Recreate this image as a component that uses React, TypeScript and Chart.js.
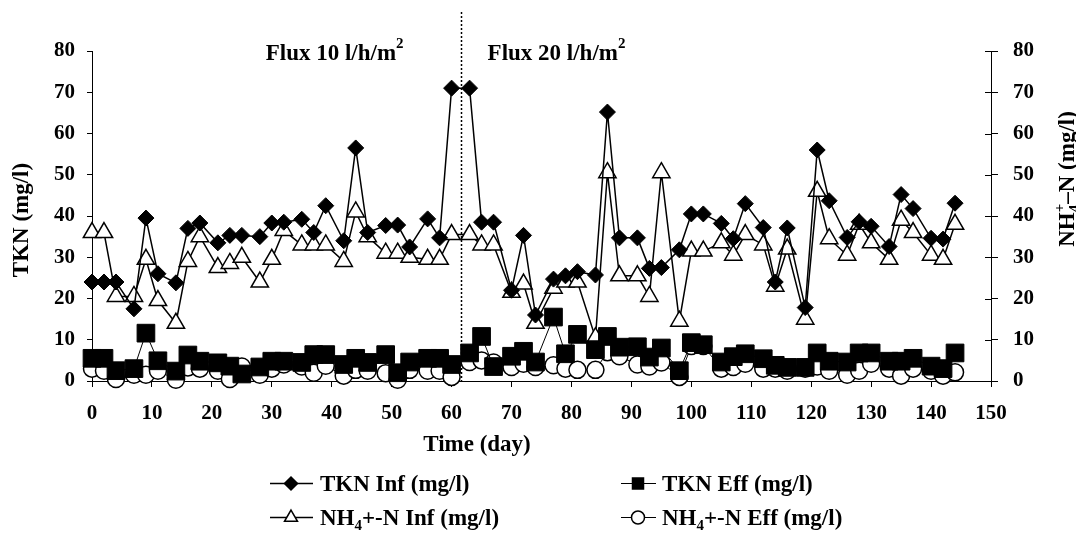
import React, { useEffect, useRef } from "react";
import { Chart, registerables } from "chart.js";

Chart.register(...registerables);

// ---- data ----
const days = [
  0, 2, 4, 7, 9, 11, 14, 16, 18, 21, 23, 25, 28, 30, 32, 35, 37, 39, 42, 44, 46,
  49, 51, 53, 56, 58, 60, 63, 65, 67, 70, 72, 74, 77, 79, 81, 84, 86, 88, 91, 93, 95,
  98, 100, 102, 105, 107, 109, 112, 114, 116, 119, 121, 123, 126, 128, 130, 133, 135, 137, 140, 142, 144,
];
const tknInf = [
  24, 24, 24, 17.5, 39.5, 26, 23.8, 37, 38.3, 33.5, 35.3, 35.3, 35, 38.3, 38.5, 39.2, 36, 42.5, 34, 56.5, 36,
  37.7, 37.8, 32.5, 39.3, 34.7, 71, 71, 38.5, 38.5, 22, 35.3, 16, 24.7, 25.5, 26.5, 25.7, 65.2, 34.7, 34.7, 27.3, 27.5,
  31.8, 40.5, 40.5, 38.2, 34.5, 43, 37.2, 24, 37.1, 17.8, 56, 43.7, 34.8, 38.6, 37.5, 32.6, 45.2, 41.8, 34.6, 34.4, 43.1,
];
const tknEff = [
  5.5, 5.5, 2.5, 3, 11.6, 4.9, 2.4, 6.3, 4.8, 4.4, 3.6, 1.7, 3.4, 4.8, 4.8, 4.5, 6.4, 6.4, 4, 5.5, 4.5,
  6.4, 2, 4.6, 5.5, 5.5, 4, 6.8, 10.8, 3.5, 6, 7.2, 4.6, 15.5, 6.6, 11.3, 7.6, 10.8, 8.2, 8.3, 5.8, 8,
  2.5, 9.3, 8.8, 4.6, 5.9, 6.6, 5.4, 3.8, 3.3, 3.3, 6.8, 4.8, 4.6, 6.8, 6.8, 4.8, 4.8, 5.5, 3.6, 3, 6.8,
];
const nh4Inf = [
  36, 36, 20.5, 20.5, 29.5, 19.5, 14, 29, 35, 27.5, 28.5, 30, 24, 29.5, 36.5, 33, 33, 33, 29, 41, 35,
  31, 31, 30, 29.5, 29.5, 35.5, 35.5, 33, 33, 21.5, 23.5, 14, 22.5, 24, 24, 10.5, 50.5, 25.5, 25.5, 20.5, 50.5,
  14.5, 31.5, 31.5, 33.5, 30.5, 35.5, 33, 23, 32, 15, 46, 34.5, 30.5, 38, 33.5, 29.5, 39, 36, 30.5, 29.5, 38,
];
const nh4Eff = [
  3, 2.5, 0.5, 1.5, 1.5, 2.5, 0.3, 3.3, 3, 2.5, 0.5, 3.5, 1.5, 3, 4, 3.5, 2, 3.7, 1.3, 2.7, 2.5,
  1.9, 0.3, 2.7, 2.5, 2.5, 1, 4.6, 5, 4.5, 3.4, 4.2, 3.4, 3.8, 3, 2.7, 2.7, 7, 6, 4, 3.5, 4.5,
  1, 8.5, 8.5, 3, 3.4, 4.2, 3, 3, 2.5, 3, 3.5, 2.5, 1.5, 2.5, 4.2, 3, 1.3, 3, 2.5, 1.3, 2.1,
];

const xRange = [0, 150];
const yRange = [0, 80];
const xStep = 10;
const yStep = 10;
const fluxChangeDay = 61.5;
const fluxLabels = ["Flux 10 l/h/m", "Flux 20 l/h/m"];
const fluxSup = "2";
const xTitle = "Time (day)";
const yTitleLeft = "TKN (mg/l)";

const FAMILY = '"Liberation Serif", "Times New Roman", Times, serif';
const bold = (size: number) => `bold ${size}px ${FAMILY}`;

type Part = { t: string; size: number; dy: number; stack?: boolean };

function drawRich(ctx: CanvasRenderingContext2D, parts: Part[], x: number, y: number, dry = false): number {
  let cx = x;
  let prevX = x;
  let prevW = 0;
  for (const p of parts) {
    ctx.font = bold(p.size);
    const w = ctx.measureText(p.t).width;
    if (p.stack) {
      if (!dry) ctx.fillText(p.t, prevX, y + p.dy);
      prevW = Math.max(prevW, w);
      cx = prevX + prevW;
    } else {
      if (!dry) ctx.fillText(p.t, cx, y + p.dy);
      prevX = cx;
      prevW = w;
      cx += w;
    }
  }
  return cx - x;
}

function drawMarker(ctx: CanvasRenderingContext2D, style: string, x: number, y: number, r: number, fill: string) {
  ctx.beginPath();
  if (style === "rectRot") {
    ctx.moveTo(x - r, y);
    ctx.lineTo(x, y - r);
    ctx.lineTo(x + r, y);
    ctx.lineTo(x, y + r);
    ctx.closePath();
  } else if (style === "rect") {
    ctx.rect(x - r, y - r, 2 * r, 2 * r);
  } else if (style === "triangle") {
    const s = Math.sin((2 * Math.PI) / 3) * r;
    ctx.moveTo(x, y - r);
    ctx.lineTo(x + s, y + r / 2);
    ctx.lineTo(x - s, y + r / 2);
    ctx.closePath();
  } else {
    ctx.arc(x, y, r, 0, Math.PI * 2);
  }
  ctx.fillStyle = fill;
  ctx.fill();
  ctx.lineWidth = 1.5;
  ctx.strokeStyle = "#000";
  ctx.stroke();
}

const legendItems: { parts: Part[]; style: string; r: number; fill: string; col: number; row: number; lw: number }[] = [
  { parts: [{ t: "TKN Inf (mg/l)", size: 23, dy: 0 }], style: "rectRot", r: 6.5, fill: "#000", col: 0, row: 0, lw: 1.5 },
  { parts: [{ t: "TKN Eff (mg/l)", size: 23, dy: 0 }], style: "rect", r: 5.5, fill: "#000", col: 1, row: 0, lw: 1 },
  {
    parts: [
      { t: "NH", size: 23, dy: 0 },
      { t: "4", size: 15, dy: 5 },
      { t: "+-N Inf (mg/l)", size: 23, dy: 0 },
    ],
    style: "triangle", r: 7.5, fill: "#fff", col: 0, row: 1, lw: 1.5,
  },
  {
    parts: [
      { t: "NH", size: 23, dy: 0 },
      { t: "4", size: 15, dy: 5 },
      { t: "+-N Eff (mg/l)", size: 23, dy: 0 },
    ],
    style: "circle", r: 6.5, fill: "#fff", col: 1, row: 1, lw: 1,
  },
];

const rightTitleParts: Part[] = [
  { t: "NH", size: 23, dy: 0 },
  { t: "4", size: 15, dy: 5 },
  { t: "+", size: 15, dy: -10, stack: true },
  { t: "\u2013N (mg/l)", size: 23, dy: 0 },
];

const overlayPlugin = {
  id: "overlay",
  afterDatasetsDraw(chart: any) {
    const { ctx, chartArea, scales } = chart;
    const xs = scales.x;
    const yr = scales.y1;
    ctx.save();
    const lx = Math.round(xs.getPixelForValue(fluxChangeDay)) + 0.5;
    ctx.strokeStyle = "#000";
    ctx.lineWidth = 1.5;
    ctx.setLineDash([2, 2]);
    ctx.beginPath();
    ctx.moveTo(lx, 12);
    ctx.lineTo(lx, chartArea.bottom);
    ctx.stroke();
    ctx.setLineDash([]);
    ctx.lineWidth = 1;
    for (const t of yr.ticks) {
      const py = Math.round(yr.getPixelForValue(t.value)) + 0.5;
      ctx.beginPath();
      ctx.moveTo(chartArea.right - 6, py);
      ctx.lineTo(chartArea.right, py);
      ctx.stroke();
    }
    ctx.restore();
  },
  afterDraw(chart: any) {
    const { ctx, scales } = chart;
    const xs = scales.x;
    ctx.save();
    ctx.fillStyle = "#000";
    ctx.textAlign = "left";
    ctx.textBaseline = "alphabetic";
    const lx = xs.getPixelForValue(fluxChangeDay);

    // flux labels
    const p1: Part[] = [
      { t: fluxLabels[0], size: 23, dy: 0 },
      { t: fluxSup, size: 15, dy: -12 },
    ];
    const p2: Part[] = [
      { t: fluxLabels[1], size: 23, dy: 0 },
      { t: fluxSup, size: 15, dy: -12 },
    ];
    const w1 = drawRich(ctx, p1, 0, 0, true);
    drawRich(ctx, p1, lx - 57 - w1, 60);
    drawRich(ctx, p2, lx + 27, 60);

    // x title
    ctx.font = bold(23);
    ctx.textAlign = "center";
    ctx.fillText(xTitle, 477, 451);

    // left title
    ctx.save();
    ctx.translate(20, 220);
    ctx.rotate(-Math.PI / 2);
    ctx.font = bold(23);
    ctx.textAlign = "center";
    ctx.fillText(yTitleLeft, 0, 7.6);
    ctx.restore();

    // right title
    ctx.textAlign = "left";
    ctx.save();
    ctx.translate(1066, 179);
    ctx.rotate(-Math.PI / 2);
    const wr = drawRich(ctx, rightTitleParts, 0, 0, true);
    drawRich(ctx, rightTitleParts, -wr / 2, 7.6);
    ctx.restore();

    // legend
    const cols = [
      { l0: 270, l1: 313, m: 291, tx: 320 },
      { l0: 621, l1: 656, m: 638, tx: 662 },
    ];
    const rows = [483.5, 517.5];
    for (const it of legendItems) {
      const c = cols[it.col];
      const y = rows[it.row];
      ctx.strokeStyle = "#000";
      ctx.lineWidth = it.lw;
      ctx.beginPath();
      ctx.moveTo(c.l0, y);
      ctx.lineTo(c.l1, y);
      ctx.stroke();
      drawMarker(ctx, it.style, c.m, y, it.r, it.fill);
      ctx.fillStyle = "#000";
      drawRich(ctx, it.parts, c.tx, y + 7.6);
    }
    ctx.restore();
  },
};

export default function App() {
  const ref = useRef<HTMLCanvasElement | null>(null);

  useEffect(() => {
    document.body.style.margin = "0";
    const canvas = ref.current;
    if (!canvas) return;
    const tickFont = { family: FAMILY, size: 21, weight: "bold" as const };
    const pts = (ys: number[]) => days.map((d, i) => ({ x: d, y: ys[i] }));
    const chart = new Chart(canvas, {
      type: "line",
      data: {
        datasets: [
          {
            label: "TKN Inf (mg/l)",
            data: pts(tknInf),
            yAxisID: "y",
            borderColor: "#000",
            borderWidth: 1.5,
            pointStyle: "rectRot",
            pointRadius: 8,
            pointBackgroundColor: "#000",
            pointBorderColor: "#000",
            pointBorderWidth: 1,
            tension: 0,
            fill: false,
            clip: false,
          },
          {
            label: "TKN Eff (mg/l)",
            data: pts(tknEff),
            yAxisID: "y",
            borderColor: "#000",
            borderWidth: 1,
            pointStyle: "rect",
            pointRadius: 12.5,
            pointBackgroundColor: "#000",
            pointBorderColor: "#000",
            pointBorderWidth: 1,
            tension: 0,
            fill: false,
            clip: false,
          },
          {
            label: "NH4+-N Inf (mg/l)",
            data: pts(nh4Inf),
            yAxisID: "y1",
            borderColor: "#000",
            borderWidth: 1.5,
            pointStyle: "triangle",
            pointRadius: 10,
            pointBackgroundColor: "#fff",
            pointBorderColor: "#000",
            pointBorderWidth: 1.5,
            tension: 0,
            fill: false,
            clip: false,
          },
          {
            label: "NH4+-N Eff (mg/l)",
            data: pts(nh4Eff),
            yAxisID: "y1",
            borderColor: "#000",
            borderWidth: 1,
            pointStyle: "circle",
            pointRadius: 8.5,
            pointBackgroundColor: "#fff",
            pointBorderColor: "#000",
            pointBorderWidth: 1.5,
            tension: 0,
            fill: false,
            clip: false,
          },
        ],
      },
      options: {
        responsive: false,
        animation: false,
        devicePixelRatio: 1,
        events: [],
        layout: { padding: { top: 51, left: 0, right: 0, bottom: 0 } },
        plugins: { legend: { display: false }, tooltip: { enabled: false }, title: { display: false } },
        scales: {
          x: {
            type: "linear",
            position: "bottom",
            min: xRange[0],
            max: xRange[1],
            ticks: { stepSize: xStep, font: tickFont, color: "#000", padding: 14, maxRotation: 0, autoSkip: false },
            grid: { drawOnChartArea: false, drawTicks: true, tickLength: 6, tickColor: "#000", tickWidth: 1 },
            border: { display: true, color: "#000", width: 1 },
            afterFit: (s: any) => {
              s.height = 157;
            },
          },
          y: {
            type: "linear",
            position: "left",
            min: yRange[0],
            max: yRange[1],
            ticks: { stepSize: yStep, font: tickFont, color: "#000", padding: 12 },
            grid: { drawOnChartArea: false, drawTicks: true, tickLength: 5, tickColor: "#000", tickWidth: 1 },
            border: { display: true, color: "#000", width: 1 },
            afterFit: (s: any) => {
              s.width = 92;
            },
          },
          y1: {
            type: "linear",
            position: "right",
            min: yRange[0],
            max: yRange[1],
            ticks: { stepSize: yStep, font: tickFont, color: "#000", padding: 15 },
            grid: { drawOnChartArea: false, drawTicks: true, tickLength: 7, tickColor: "#000", tickWidth: 1 },
            border: { display: true, color: "#000", width: 1 },
            afterFit: (s: any) => {
              s.width = 85;
            },
          },
        },
      } as any,
      plugins: [overlayPlugin],
    });
    return () => chart.destroy();
  }, []);

  return (
    <div style={{ width: 1076, height: 538 }}>
      <canvas ref={ref} width={1076} height={538} style={{ display: "block" }} />
    </div>
  );
}
